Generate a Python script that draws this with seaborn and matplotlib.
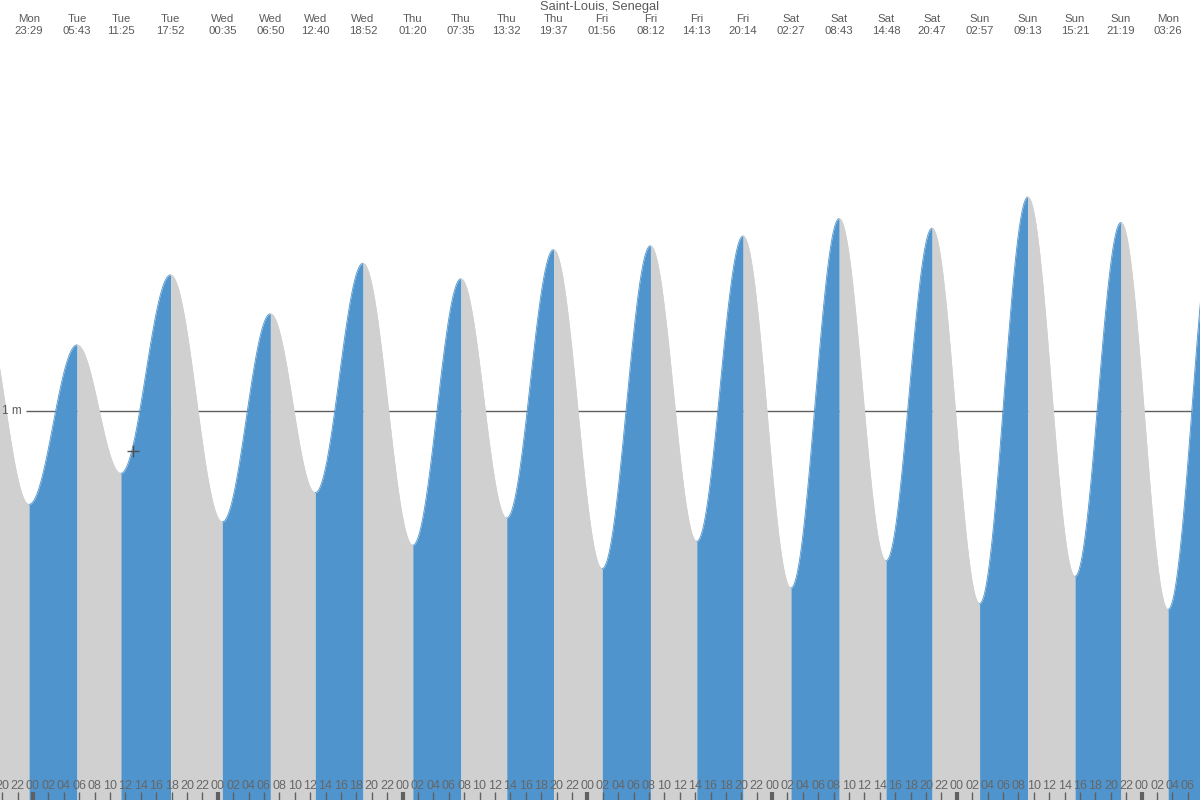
import numpy as np
import pandas as pd
import matplotlib
matplotlib.use('Agg')
import matplotlib.pyplot as plt
import matplotlib.transforms as mtransforms
import seaborn as sns

sns.set_theme(style='white')
plt.rcParams['font.family'] = ['Liberation Sans', 'DejaVu Sans']

BLUE = '#4F94CD'
GREY = '#D0D0D0'
TEXT = '#5A5A5A'

title = 'Saint-Louis, Senegal'

# tide extremes (first and last fall just outside the visible window)
ext_day = ['Mon', 'Mon', 'Tue', 'Tue', 'Tue', 'Wed', 'Wed', 'Wed', 'Wed',
           'Thu', 'Thu', 'Thu', 'Thu', 'Fri', 'Fri', 'Fri', 'Fri',
           'Sat', 'Sat', 'Sat', 'Sat', 'Sun', 'Sun', 'Sun', 'Sun', 'Mon', 'Mon']
ext_clock = ['17:15', '23:29', '05:43', '11:25', '17:52', '00:35', '06:50', '12:40', '18:52',
             '01:20', '07:35', '13:32', '19:37', '01:56', '08:12', '14:13', '20:14',
             '02:27', '08:43', '14:48', '20:47', '02:57', '09:13', '15:21', '21:19', '03:26', '09:40']
ext_height = [1.28, 0.76, 1.17, 0.84, 1.35, 0.715, 1.25, 0.79, 1.38,
              0.655, 1.34, 0.725, 1.415, 0.595, 1.425, 0.665, 1.45,
              0.545, 1.495, 0.615, 1.47, 0.505, 1.55, 0.575, 1.485, 0.49, 1.53]

now_hour = 13.0  # Tue 13:00, hours after Tue 00:00

# window: hours after Tue 00:00
x_min, x_max = -4.286, 151.58
y_min, y_max = 0.0, 2.0566
px = (x_max - x_min) / 1200  # hours per pixel

# hours from Tue 00:00 for each extreme
day_idx = []
d = -1
for i, name in enumerate(ext_day):
    if i > 0 and name != ext_day[i - 1]:
        d += 1
    day_idx.append(d)
ext_t = [di * 24 + int(c[:2]) + int(c[3:]) / 60 for di, c in zip(day_idx, ext_clock)]

# curve between extremes (cosine shape of the tide)
rows = []
for i in range(len(ext_t) - 1):
    t0, t1 = ext_t[i], ext_t[i + 1]
    h0, h1 = ext_height[i], ext_height[i + 1]
    tt = np.linspace(t0, t1, 80)
    hh = h0 + (h1 - h0) * (1 - np.cos(np.pi * (tt - t0) / (t1 - t0))) / 2
    for a, b in zip(tt, hh):
        rows.append((i, a, b, 'rise' if h1 > h0 else 'fall'))
curve = pd.DataFrame(rows, columns=['seg', 't', 'h', 'kind'])

fig = plt.figure(figsize=(12, 8), dpi=100, facecolor='white')
ax = fig.add_axes([0, 0, 1, 1])
ax.set_facecolor('white')

# 1 m reference line behind the fill
ax.hlines(1.0, x_min + 26 * px, x_min + 1192 * px, color='#606060', lw=1, zorder=1)
ax.text(x_min + 2 * px, 1.0, '1 m', color=TEXT, fontsize=8.5, va='center', ha='left', zorder=6)

for seg, g in curve.groupby('seg'):
    col = BLUE if g['kind'].iloc[0] == 'rise' else GREY
    ax.fill_between(g['t'], 0, g['h'], color=col, lw=0, zorder=2)
    sns.lineplot(data=g, x='t', y='h', ax=ax, color=col, lw=0.6, zorder=2,
                 estimator=None, sort=False)

# current time cross
i_now = max(i for i, t in enumerate(ext_t) if t <= now_hour)
t0, t1 = ext_t[i_now], ext_t[i_now + 1]
h0, h1 = ext_height[i_now], ext_height[i_now + 1]
h_now = h0 + (h1 - h0) * (1 - np.cos(np.pi * (now_hour - t0) / (t1 - t0))) / 2
ax.plot([now_hour], [h_now - 0.015], marker='+', ms=8, mew=1, color='#505050', zorder=4)

# extreme labels at the top
trans = mtransforms.blended_transform_factory(ax.transData, ax.transAxes)
for day, clock, t in zip(ext_day, ext_clock, ext_t):
    if x_min < t < x_max:
        ax.text(t, 1 - 19 / 800, day, transform=trans, ha='center', va='center',
                color=TEXT, fontsize=8.2)
        ax.text(t, 1 - 31.5 / 800, clock, transform=trans, ha='center', va='center',
                color=TEXT, fontsize=8.2)
ax.text(0.5, 1 - 7 / 800, title, transform=ax.transAxes, ha='center', va='center',
        color=TEXT, fontsize=9.3)

# hour labels and ticks along the bottom
hours = np.arange(-4, 152, 2)
for h in hours:
    ax.text(h, 14 / 800, f'{h % 24:02d}', transform=trans, ha='center', va='center',
            color='#666666', fontsize=9)
minor = [h for h in hours if h % 24 != 0]
major = [h for h in hours if h % 24 == 0]
ax.vlines(minor, 0, 8 / 800, transform=trans, color='#606060', lw=1, zorder=5)
ax.vlines(major, 0, 8 / 800, transform=trans, color='#606060', lw=3, zorder=5)

ax.set_xlim(x_min, x_max)
ax.set_ylim(y_min, y_max)
ax.set_xlabel('')
ax.set_ylabel('')
ax.set_xticks([])
ax.set_yticks([])
for s in ax.spines.values():
    s.set_visible(False)

fig.savefig('out.png', dpi=100, facecolor='white')
